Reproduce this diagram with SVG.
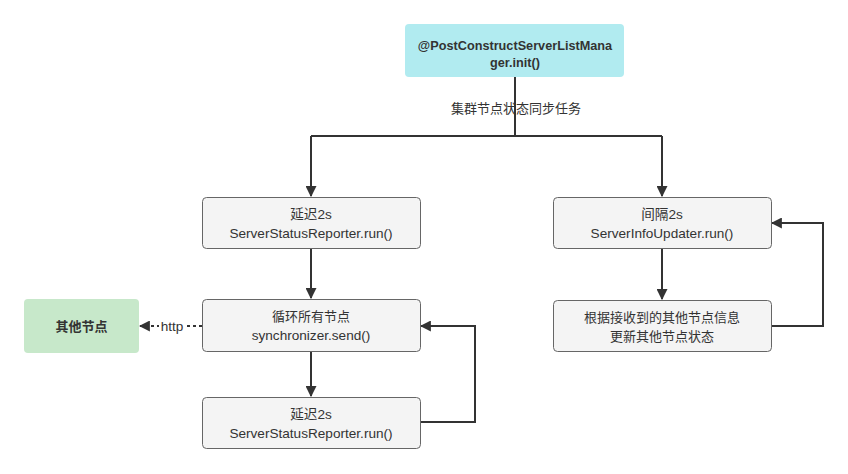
<svg xmlns="http://www.w3.org/2000/svg" width="848" height="474" viewBox="0 0 848 474">
<style>
text{font-family:"Liberation Sans","Noto Sans CJK SC",sans-serif;font-size:13.6px;fill:#333;text-anchor:middle}
.cjk{font-family:"Noto Sans CJK SC","Liberation Sans",sans-serif;font-size:13px}
.box{fill:#f4f4f4;stroke:#666;stroke-width:1}
.b{font-weight:bold;font-size:12.7px}
.ln{fill:none;stroke:#333;stroke-width:2}
.dash{fill:none;stroke:#333;stroke-width:2;stroke-dasharray:3 3}
</style>
<defs>
<marker id="ah" viewBox="0 0 10 10" refX="9" refY="5" markerWidth="5.5" markerHeight="5.5" orient="auto" markerUnits="strokeWidth">
<path d="M0,0 L10,5 L0,10 Z" fill="#333"/>
</marker>
</defs>
<rect width="848" height="474" fill="#fff"/>
<g id="connectors">
<path class="ln" d="M515,77 V136"/>
<path class="ln" d="M311,136 H662"/>
<path class="ln" d="M311,136 V196" marker-end="url(#ah)"/>
<path class="ln" d="M662,136 V196" marker-end="url(#ah)"/>
<path class="ln" d="M311,248 V298" marker-end="url(#ah)"/>
<path class="ln" d="M311,352 V396" marker-end="url(#ah)"/>
<path class="ln" d="M662,249 V299" marker-end="url(#ah)"/>
<path class="ln" d="M771,326 H823 V223 H772" marker-end="url(#ah)"/>
<path class="ln" d="M420,422 H475 V326 H421" marker-end="url(#ah)"/>
<path class="dash" d="M202,326 H140" marker-end="url(#ah)"/>
<text class="cjk" x="516" y="112.5">集群节点状态同步任务</text>
<rect x="159" y="318" width="26" height="16" fill="#fff"/>
<text x="172" y="331">http</text>
</g>
<g id="init">
<rect x="405" y="24" width="219" height="53" rx="4" fill="#b1ebf0"/>
<text class="b" x="515" y="49.5">@PostConstructServerListMana</text>
<text class="b" x="515" y="67">ger.init()</text>
</g>
<g id="reporter1">
<rect class="box" x="202.5" y="197.5" width="218" height="51" rx="4"/>
<text x="311" y="219">延迟2s</text>
<text x="311" y="238">ServerStatusReporter.run()</text>
</g>
<g id="updater">
<rect class="box" x="553.5" y="197.5" width="218" height="51" rx="4"/>
<text x="662" y="219">间隔2s</text>
<text x="662" y="238">ServerInfoUpdater.run()</text>
</g>
<g id="sync">
<rect class="box" x="202.5" y="299.5" width="218" height="52" rx="4"/>
<text class="cjk" x="311" y="321">循环所有节点</text>
<text x="311" y="340">synchronizer.send()</text>
</g>
<g id="others">
<rect x="24" y="299" width="115" height="54" rx="4" fill="#c7e8ca"/>
<text class="cjk" font-weight="bold" x="81.5" y="330.5">其他节点</text>
</g>
<g id="reporter2">
<rect class="box" x="202.5" y="397.5" width="218" height="51" rx="4"/>
<text x="311" y="419">延迟2s</text>
<text x="311" y="438">ServerStatusReporter.run()</text>
</g>
<g id="update-state">
<rect class="box" x="553.5" y="300.5" width="218" height="51" rx="4"/>
<text class="cjk" x="662" y="321.5">根据接收到的其他节点信息</text>
<text class="cjk" x="662" y="340.5">更新其他节点状态</text>
</g>
</svg>
